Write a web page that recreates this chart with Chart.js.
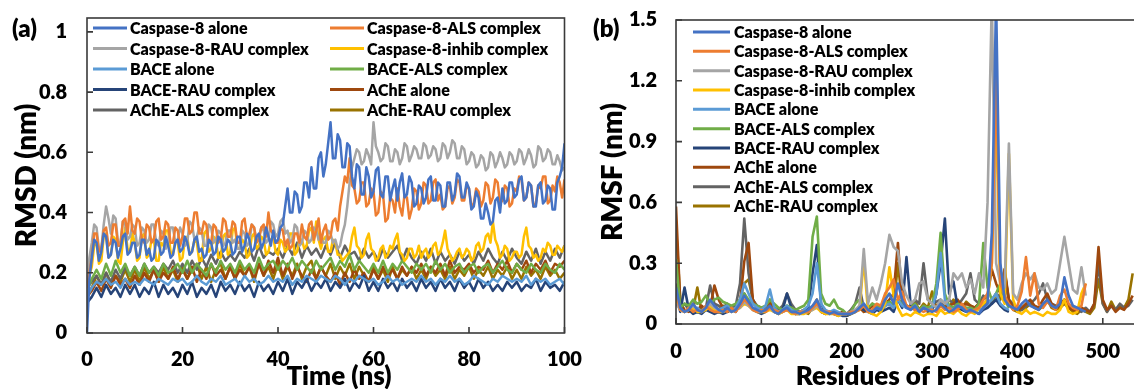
<!DOCTYPE html>
<html>
<head>
<meta charset="utf-8">
<script src="https://cdn.jsdelivr.net/npm/chart.js@4.4.1/dist/chart.umd.min.js"></script>
<style>
	html, body { margin: 0; padding: 0; background: #fff; overflow: hidden; }
	body { width: 1134px; height: 389px; position: relative; }
	#boxA { position: absolute; left: 0; top: 0; width: 600px; height: 389px; }
	#boxB { position: absolute; left: 570px; top: 0; width: 585px; height: 389px; }
</style>
</head>
<body>
<div id="boxA"><canvas id="rmsdChart"></canvas></div>
<div id="boxB"><canvas id="rmsfChart"></canvas></div>
<script>
// ---- labels / colours
var seriesNames = ['Caspase-8 alone', 'Caspase-8-ALS complex', 'Caspase-8-RAU complex', 'Caspase-8-inhib complex',
	'BACE alone', 'BACE-ALS complex', 'BACE-RAU complex', 'AChE alone', 'AChE-ALS complex', 'AChE-RAU complex'];
var seriesColors = ['#4472C4', '#ED7D31', '#A5A5A5', '#FFC000', '#5B9BD5', '#70AD47', '#264478', '#9E480E', '#636363', '#997300'];

var rmsdTicks = [0, 0.2, 0.4, 0.6, 0.8, 1];
var timeTicks = [0, 20, 40, 60, 80, 100];
var rmsfTicks = [0, 0.3, 0.6, 0.9, 1.2, 1.5];
var residueTicks = [0, 100, 200, 300, 400, 500];

var textWeight = 800;

// ---- (a) RMSD. caspase runs read every 0.5 ns, the others every 1 ns
var timeHalf = [];
for (let t = 0; t <= 200; t++) timeHalf.push(t / 2);
var timeNs = [];
for (let t = 0; t <= 100; t++) timeNs.push(t);

var rmsdCasp = [0.00,0.18,0.25,0.31,0.30,0.24,0.27,0.33,0.32,0.25,0.26,0.31,0.30,0.25,0.28,0.32,0.33,0.26,0.27,0.30,
	0.30,0.25,0.26,0.31,0.31,0.26,0.28,0.24,0.25,0.31,0.30,0.26,0.27,0.32,0.29,0.25,0.26,0.30,0.31,0.27,
	0.28,0.32,0.30,0.26,0.27,0.31,0.32,0.27,0.28,0.25,0.26,0.31,0.30,0.26,0.27,0.32,0.31,0.27,0.28,0.31,
	0.30,0.26,0.27,0.32,0.32,0.27,0.29,0.33,0.31,0.27,0.28,0.32,0.33,0.28,0.30,0.35,0.32,0.29,0.34,0.30,
	0.31,0.35,0.36,0.42,0.48,0.40,0.40,0.47,0.46,0.40,0.42,0.50,0.50,0.45,0.55,0.48,0.48,0.58,0.60,0.52,
	0.56,0.63,0.70,0.58,0.58,0.66,0.64,0.55,0.55,0.63,0.62,0.52,0.48,0.56,0.55,0.46,0.46,0.55,0.52,0.45,
	0.47,0.54,0.55,0.46,0.45,0.52,0.52,0.44,0.48,0.51,0.44,0.50,0.53,0.45,0.46,0.52,0.50,0.42,0.43,0.49,
	0.48,0.43,0.45,0.51,0.52,0.44,0.44,0.50,0.49,0.42,0.42,0.50,0.50,0.44,0.46,0.53,0.52,0.45,0.45,0.50,
	0.48,0.41,0.42,0.47,0.45,0.38,0.38,0.43,0.40,0.36,0.37,0.44,0.45,0.40,0.48,0.43,0.44,0.50,0.50,0.45,
	0.46,0.51,0.52,0.44,0.45,0.50,0.49,0.42,0.42,0.49,0.50,0.43,0.44,0.49,0.48,0.41,0.41,0.50,0.52,0.55,
	0.63];
var rmsdCaspALS = [0.15,0.20,0.25,0.33,0.33,0.27,0.28,0.34,0.35,0.29,0.30,0.36,0.36,0.29,0.29,0.37,0.38,0.33,0.42,0.34,
	0.33,0.38,0.37,0.31,0.30,0.36,0.35,0.30,0.31,0.37,0.38,0.31,0.32,0.37,0.36,0.30,0.30,0.35,0.34,0.29,
	0.32,0.38,0.38,0.33,0.34,0.40,0.40,0.33,0.33,0.37,0.36,0.30,0.30,0.36,0.35,0.30,0.31,0.38,0.37,0.32,
	0.32,0.37,0.36,0.30,0.30,0.37,0.38,0.32,0.33,0.36,0.35,0.30,0.31,0.35,0.36,0.32,0.40,0.34,0.33,0.30,
	0.30,0.35,0.34,0.29,0.31,0.28,0.29,0.33,0.33,0.30,0.36,0.32,0.31,0.36,0.37,0.31,0.34,0.38,0.30,0.34,
	0.36,0.31,0.32,0.37,0.38,0.34,0.42,0.47,0.52,0.50,0.58,0.49,0.48,0.43,0.44,0.50,0.50,0.42,0.43,0.48,
	0.47,0.39,0.40,0.47,0.46,0.37,0.38,0.45,0.44,0.40,0.48,0.42,0.39,0.46,0.45,0.38,0.41,0.48,0.47,0.41,
	0.43,0.50,0.49,0.43,0.44,0.50,0.51,0.44,0.46,0.41,0.42,0.48,0.49,0.43,0.45,0.51,0.50,0.44,0.44,0.49,
	0.48,0.42,0.43,0.48,0.47,0.42,0.44,0.50,0.49,0.43,0.45,0.51,0.50,0.43,0.44,0.49,0.48,0.42,0.43,0.48,
	0.47,0.52,0.51,0.44,0.45,0.50,0.49,0.42,0.43,0.49,0.48,0.52,0.52,0.43,0.44,0.49,0.47,0.52,0.50,0.45,
	0.51];
var rmsdCaspRAU = [0.10,0.25,0.30,0.36,0.35,0.28,0.28,0.36,0.42,0.38,0.33,0.39,0.38,0.30,0.30,0.37,0.36,0.31,0.32,0.36,
	0.35,0.29,0.30,0.35,0.34,0.30,0.31,0.36,0.36,0.30,0.29,0.34,0.33,0.28,0.30,0.35,0.35,0.30,0.31,0.35,
	0.33,0.29,0.30,0.37,0.36,0.31,0.32,0.35,0.34,0.29,0.29,0.36,0.35,0.30,0.31,0.34,0.33,0.29,0.30,0.34,
	0.34,0.30,0.31,0.28,0.28,0.34,0.33,0.29,0.30,0.36,0.35,0.31,0.32,0.35,0.34,0.30,0.31,0.37,0.36,0.32,
	0.33,0.37,0.38,0.33,0.34,0.30,0.31,0.36,0.35,0.29,0.30,0.34,0.33,0.30,0.31,0.35,0.34,0.31,0.32,0.30,
	0.30,0.34,0.33,0.30,0.31,0.28,0.29,0.33,0.36,0.42,0.50,0.55,0.58,0.61,0.60,0.56,0.57,0.61,0.59,0.56,
	0.70,0.62,0.60,0.57,0.58,0.63,0.62,0.57,0.57,0.61,0.60,0.56,0.58,0.63,0.62,0.57,0.59,0.62,0.61,0.58,
	0.58,0.63,0.62,0.58,0.59,0.62,0.61,0.57,0.58,0.63,0.62,0.58,0.60,0.64,0.63,0.58,0.58,0.62,0.61,0.56,
	0.57,0.60,0.59,0.55,0.56,0.59,0.58,0.54,0.55,0.60,0.59,0.55,0.57,0.60,0.58,0.55,0.56,0.60,0.59,0.56,
	0.57,0.61,0.60,0.56,0.58,0.61,0.59,0.55,0.56,0.62,0.61,0.57,0.58,0.61,0.60,0.56,0.56,0.59,0.57,0.54,
	0.55];
var rmsdCaspInhib = [0.15,0.19,0.22,0.29,0.30,0.23,0.24,0.32,0.33,0.25,0.26,0.32,0.31,0.24,0.23,0.30,0.35,0.28,0.27,0.33,
	0.30,0.24,0.25,0.32,0.33,0.25,0.26,0.31,0.31,0.24,0.24,0.30,0.29,0.34,0.34,0.27,0.26,0.31,0.30,0.24,
	0.25,0.31,0.32,0.26,0.27,0.31,0.30,0.24,0.24,0.33,0.34,0.27,0.28,0.32,0.31,0.25,0.25,0.32,0.33,0.26,
	0.27,0.34,0.35,0.28,0.28,0.31,0.30,0.25,0.26,0.32,0.33,0.28,0.29,0.32,0.31,0.26,0.27,0.31,0.32,0.27,
	0.26,0.31,0.30,0.27,0.28,0.33,0.33,0.26,0.27,0.31,0.31,0.28,0.29,0.34,0.35,0.30,0.37,0.31,0.28,0.31,
	0.32,0.27,0.27,0.31,0.30,0.26,0.26,0.24,0.25,0.26,0.27,0.32,0.35,0.29,0.28,0.25,0.26,0.31,0.33,0.28,
	0.27,0.24,0.25,0.28,0.29,0.25,0.26,0.29,0.28,0.31,0.33,0.27,0.26,0.24,0.25,0.28,0.28,0.25,0.26,0.29,
	0.25,0.27,0.28,0.25,0.26,0.29,0.30,0.26,0.27,0.30,0.34,0.28,0.26,0.24,0.25,0.27,0.28,0.25,0.26,0.28,
	0.27,0.24,0.25,0.29,0.30,0.27,0.28,0.32,0.33,0.30,0.37,0.31,0.29,0.25,0.26,0.29,0.28,0.24,0.25,0.27,
	0.27,0.25,0.26,0.32,0.35,0.29,0.28,0.25,0.26,0.24,0.25,0.28,0.27,0.30,0.29,0.26,0.26,0.29,0.28,0.27,
	0.29];
var rmsdBace = [0.12,0.15,0.17,0.16,0.18,0.16,0.17,0.15,0.18,0.16,
	0.17,0.16,0.18,0.17,0.16,0.18,0.17,0.16,0.18,0.17,
	0.18,0.16,0.17,0.19,0.17,0.16,0.18,0.17,0.19,0.16,
	0.17,0.18,0.16,0.19,0.17,0.18,0.16,0.17,0.19,0.17,
	0.18,0.17,0.19,0.16,0.18,0.17,0.19,0.18,0.17,0.19,
	0.18,0.17,0.19,0.18,0.16,0.18,0.17,0.19,0.18,0.17,
	0.18,0.16,0.17,0.19,0.17,0.18,0.16,0.17,0.18,0.17,
	0.19,0.17,0.18,0.16,0.18,0.17,0.19,0.17,0.18,0.16,
	0.17,0.19,0.18,0.17,0.16,0.18,0.17,0.19,0.18,0.17,
	0.18,0.17,0.19,0.16,0.18,0.17,0.18,0.16,0.17,0.18,0.16];
var rmsdBaceALS = [0.14,0.18,0.21,0.18,0.23,0.19,0.24,0.20,0.23,0.19,
	0.22,0.19,0.23,0.20,0.22,0.19,0.23,0.20,0.21,0.23,
	0.20,0.24,0.20,0.23,0.21,0.19,0.23,0.20,0.24,0.21,
	0.23,0.20,0.24,0.21,0.23,0.20,0.25,0.21,0.23,0.24,
	0.21,0.24,0.22,0.25,0.21,0.24,0.22,0.20,0.24,0.21,
	0.23,0.25,0.21,0.24,0.22,0.26,0.21,0.24,0.22,0.20,
	0.23,0.20,0.24,0.20,0.23,0.21,0.24,0.22,0.20,0.23,
	0.21,0.23,0.20,0.24,0.21,0.23,0.20,0.22,0.23,0.20,
	0.22,0.23,0.20,0.22,0.23,0.20,0.22,0.24,0.21,0.20,
	0.23,0.21,0.20,0.23,0.21,0.20,0.23,0.21,0.20,0.23,0.21];
var rmsdBaceRAU = [0.10,0.12,0.15,0.12,0.16,0.13,0.15,0.12,0.16,0.13,
	0.16,0.12,0.15,0.13,0.17,0.12,0.16,0.13,0.15,0.12,
	0.16,0.13,0.17,0.12,0.15,0.13,0.16,0.12,0.17,0.14,
	0.16,0.13,0.17,0.14,0.16,0.12,0.17,0.14,0.16,0.13,
	0.17,0.14,0.18,0.13,0.17,0.15,0.18,0.14,0.17,0.15,
	0.18,0.14,0.17,0.15,0.18,0.14,0.17,0.15,0.19,0.14,
	0.17,0.14,0.18,0.15,0.17,0.14,0.18,0.15,0.17,0.14,
	0.18,0.15,0.17,0.14,0.18,0.15,0.17,0.14,0.18,0.15,
	0.17,0.14,0.18,0.15,0.17,0.14,0.16,0.14,0.17,0.15,
	0.17,0.14,0.16,0.15,0.18,0.14,0.17,0.15,0.16,0.14,0.17];
var rmsdAche = [0.12,0.14,0.17,0.14,0.18,0.15,0.19,0.16,0.18,0.15,
	0.19,0.16,0.20,0.17,0.21,0.17,0.20,0.18,0.22,0.18,
	0.21,0.18,0.22,0.17,0.21,0.18,0.23,0.19,0.21,0.18,
	0.22,0.18,0.21,0.19,0.22,0.18,0.23,0.19,0.24,0.20,
	0.25,0.19,0.23,0.18,0.22,0.19,0.17,0.21,0.18,0.22,
	0.19,0.17,0.20,0.16,0.20,0.17,0.21,0.18,0.20,0.17,
	0.21,0.18,0.22,0.19,0.21,0.18,0.22,0.19,0.22,0.20,
	0.23,0.19,0.22,0.20,0.23,0.19,0.24,0.20,0.22,0.21,
	0.23,0.20,0.22,0.21,0.24,0.20,0.23,0.21,0.24,0.20,
	0.23,0.21,0.24,0.20,0.23,0.21,0.24,0.20,0.23,0.22,0.24];
var rmsdAcheALS = [0.15,0.17,0.19,0.16,0.20,0.17,0.21,0.18,0.22,0.19,
	0.22,0.19,0.23,0.20,0.22,0.20,0.23,0.21,0.24,0.20,
	0.23,0.20,0.24,0.21,0.25,0.22,0.26,0.23,0.27,0.24,
	0.26,0.24,0.27,0.25,0.28,0.24,0.29,0.25,0.27,0.26,
	0.28,0.25,0.29,0.26,0.30,0.25,0.29,0.26,0.28,0.25,
	0.29,0.26,0.30,0.25,0.29,0.26,0.27,0.24,0.28,0.25,
	0.27,0.24,0.28,0.25,0.27,0.29,0.24,0.28,0.25,0.23,
	0.27,0.24,0.28,0.23,0.27,0.24,0.26,0.23,0.27,0.24,
	0.26,0.23,0.27,0.24,0.28,0.25,0.23,0.27,0.24,0.28,
	0.25,0.23,0.27,0.24,0.28,0.23,0.27,0.24,0.28,0.25,0.29];
var rmsdAcheRAU = [0.13,0.15,0.19,0.16,0.20,0.16,0.19,0.17,0.21,0.17,
	0.21,0.17,0.22,0.18,0.21,0.17,0.22,0.18,0.21,0.17,
	0.22,0.18,0.21,0.23,0.18,0.22,0.17,0.21,0.23,0.18,
	0.22,0.18,0.23,0.19,0.22,0.17,0.23,0.19,0.22,0.18,
	0.23,0.18,0.22,0.19,0.23,0.18,0.22,0.24,0.18,0.22,
	0.19,0.23,0.18,0.22,0.19,0.23,0.18,0.22,0.19,0.17,
	0.22,0.18,0.21,0.17,0.22,0.18,0.21,0.19,0.22,0.18,
	0.21,0.18,0.22,0.19,0.21,0.18,0.22,0.18,0.21,0.19,
	0.22,0.18,0.21,0.19,0.22,0.18,0.21,0.19,0.22,0.18,
	0.21,0.18,0.22,0.19,0.21,0.18,0.22,0.19,0.21,0.18,0.20];

// ---- (b) RMSF, every 5th residue
var residues = [];
for (let r = 0; r <= 535; r += 5) residues.push(r);

var rmsfCasp = [0.18,0.08,0.06,0.07,0.10,0.07,0.06,0.08,0.12,0.09,
	0.07,0.06,0.08,0.06,0.07,0.10,0.14,0.11,0.08,0.07,
	0.06,0.07,0.09,0.06,0.05,0.07,0.08,0.06,0.06,0.05,
	0.06,0.07,0.09,0.12,0.07,0.06,0.05,0.06,0.05,0.05,
	0.05,0.05,0.06,0.08,0.10,0.07,0.06,0.08,0.07,0.12,
	0.15,0.10,0.20,0.12,0.08,0.07,0.09,0.06,0.08,0.07,
	0.06,0.07,0.10,0.08,0.06,0.07,0.09,0.08,0.06,0.07,
	0.06,0.05,0.08,0.10,0.45,1.60,0.30,0.12,0.09,0.08,
	0.07,0.10,0.12,0.09,0.08,0.07,0.10,0.12,0.09,0.08,
	0.10,0.23,0.14,0.09,0.08,0.07,0.06];
var rmsfCaspALS = [0.15,0.07,0.06,0.08,0.06,0.07,0.06,0.09,0.07,0.06,
	0.06,0.07,0.06,0.08,0.06,0.09,0.12,0.10,0.07,0.06,
	0.07,0.06,0.08,0.07,0.06,0.06,0.07,0.06,0.05,0.06,
	0.06,0.06,0.08,0.10,0.07,0.06,0.06,0.05,0.05,0.05,
	0.05,0.06,0.06,0.07,0.09,0.06,0.07,0.10,0.09,0.15,
	0.18,0.22,0.12,0.16,0.09,0.08,0.07,0.07,0.06,0.07,
	0.07,0.06,0.09,0.07,0.08,0.06,0.07,0.10,0.07,0.06,
	0.07,0.08,0.12,0.15,0.30,1.24,0.20,0.14,0.10,0.07,
	0.09,0.16,0.33,0.14,0.25,0.10,0.08,0.11,0.09,0.07,
	0.14,0.17,0.10,0.08,0.07,0.09,0.20];
var rmsfCaspRAU = [0.10,0.07,0.06,0.07,0.09,0.07,0.06,0.08,0.10,0.08,
	0.07,0.06,0.07,0.06,0.07,0.08,0.11,0.09,0.07,0.06,
	0.06,0.07,0.08,0.06,0.06,0.06,0.07,0.06,0.05,0.06,
	0.06,0.06,0.07,0.09,0.07,0.06,0.06,0.05,0.05,0.05,
	0.05,0.06,0.07,0.09,0.37,0.10,0.18,0.12,0.20,0.30,
	0.44,0.38,0.36,0.20,0.14,0.10,0.12,0.20,0.21,0.12,
	0.10,0.08,0.12,0.10,0.12,0.25,0.22,0.25,0.18,0.22,
	0.15,0.25,0.18,0.60,1.60,0.30,0.20,0.18,0.89,0.15,
	0.12,0.20,0.25,0.22,0.25,0.18,0.17,0.20,0.15,0.17,
	0.30,0.43,0.30,0.17,0.15,0.28,0.14];
var rmsfCaspInhib = [0.12,0.07,0.06,0.07,0.08,0.06,0.06,0.07,0.09,0.07,
	0.06,0.06,0.07,0.06,0.07,0.08,0.10,0.09,0.07,0.06,
	0.06,0.06,0.07,0.06,0.05,0.06,0.07,0.05,0.05,0.05,
	0.05,0.06,0.07,0.08,0.06,0.05,0.05,0.05,0.04,0.05,
	0.05,0.05,0.06,0.07,0.32,0.06,0.05,0.04,0.06,0.10,
	0.28,0.14,0.08,0.04,0.05,0.04,0.06,0.05,0.04,0.05,
	0.05,0.04,0.07,0.05,0.06,0.05,0.07,0.05,0.04,0.06,
	0.05,0.08,0.10,0.12,0.30,1.03,0.15,0.10,0.84,0.12,
	0.06,0.05,0.07,0.05,0.06,0.05,0.04,0.06,0.05,0.05,
	0.07,0.12,0.06,0.05,0.06,0.15,0.20];
var rmsfBace = [0.15,0.07,0.06,0.08,0.07,0.08,0.06,0.09,0.08,0.07,
	0.07,0.08,0.09,0.07,0.08,0.12,0.20,0.15,0.10,0.08,
	0.07,0.09,0.17,0.08,0.06,0.07,0.09,0.07,0.06,0.06,
	0.07,0.09,0.15,0.30,0.10,0.07,0.06,0.07,0.06,0.05,
	0.05,0.06,0.07,0.08,0.10,0.07,0.06,0.08,0.07,0.09,
	0.10,0.08,0.12,0.09,0.08,0.07,0.09,0.06,0.08,0.07,
	0.08,0.15,0.35,0.12,0.08,0.07,0.09,0.08,0.07,0.07,
	0.06,0.07,0.08,0.10,0.12,0.15,0.10,0.08,0.07];
var rmsfBaceALS = [0.32,0.08,0.10,0.09,0.12,0.10,0.11,0.14,0.10,0.12,
	0.13,0.11,0.10,0.09,0.10,0.12,0.15,0.12,0.10,0.09,
	0.08,0.09,0.12,0.10,0.08,0.07,0.09,0.08,0.07,0.08,
	0.09,0.12,0.43,0.53,0.15,0.10,0.09,0.12,0.08,0.07,
	0.05,0.06,0.10,0.12,0.09,0.08,0.10,0.09,0.08,0.10,
	0.11,0.09,0.12,0.10,0.09,0.08,0.10,0.07,0.09,0.08,
	0.09,0.20,0.45,0.15,0.09,0.08,0.10,0.09,0.08,0.08,
	0.07,0.10,0.40,0.18,0.12,0.15,0.20,0.12,0.08];
var rmsfBaceRAU = [0.16,0.06,0.18,0.07,0.05,0.06,0.05,0.07,0.06,0.05,
	0.06,0.05,0.06,0.07,0.06,0.10,0.15,0.10,0.07,0.06,
	0.05,0.06,0.08,0.06,0.05,0.07,0.15,0.08,0.05,0.05,
	0.06,0.08,0.25,0.39,0.10,0.06,0.05,0.06,0.05,0.04,
	0.04,0.05,0.06,0.08,0.07,0.06,0.05,0.07,0.06,0.07,
	0.08,0.06,0.12,0.08,0.33,0.09,0.07,0.06,0.08,0.06,
	0.07,0.15,0.30,0.52,0.15,0.21,0.08,0.07,0.06,0.07,
	0.06,0.05,0.07,0.08,0.10,0.12,0.09,0.07,0.06];
var rmsfAche = [0.58,0.10,0.07,0.06,0.08,0.07,0.09,0.07,0.08,0.19,
	0.12,0.08,0.06,0.07,0.08,0.10,0.31,0.40,0.12,0.08,
	0.06,0.08,0.10,0.07,0.06,0.07,0.08,0.06,0.05,0.06,
	0.07,0.06,0.08,0.09,0.06,0.05,0.06,0.05,0.05,0.06,
	0.05,0.06,0.07,0.08,0.06,0.07,0.09,0.08,0.07,0.10,
	0.12,0.15,0.40,0.12,0.09,0.08,0.10,0.07,0.09,0.08,
	0.08,0.09,0.10,0.08,0.09,0.10,0.12,0.09,0.10,0.09,
	0.08,0.10,0.12,0.14,0.27,0.20,0.15,0.27,0.12,0.08,
	0.07,0.08,0.10,0.12,0.09,0.08,0.12,0.15,0.10,0.08,
	0.09,0.12,0.08,0.07,0.06,0.08,0.07,0.06,0.10,0.38,
	0.12,0.07,0.09,0.06,0.08,0.07,0.10,0.14];
var rmsfAcheALS = [0.20,0.08,0.10,0.07,0.08,0.06,0.07,0.08,0.19,0.10,
	0.09,0.08,0.10,0.08,0.09,0.20,0.52,0.25,0.12,0.09,
	0.08,0.07,0.09,0.08,0.07,0.09,0.15,0.10,0.07,0.06,
	0.07,0.06,0.08,0.10,0.07,0.06,0.06,0.05,0.05,0.05,
	0.05,0.07,0.10,0.18,0.08,0.07,0.09,0.08,0.07,0.10,
	0.11,0.09,0.12,0.10,0.09,0.08,0.12,0.10,0.30,0.12,
	0.10,0.11,0.12,0.10,0.12,0.10,0.09,0.12,0.15,0.25,
	0.12,0.10,0.14,0.12,0.10,0.12,0.15,0.25,0.12,0.10,
	0.08,0.07,0.09,0.10,0.12,0.15,0.20,0.12,0.10,0.09,
	0.10,0.12,0.09,0.08,0.07,0.06,0.08,0.06,0.10,0.30,
	0.10,0.06,0.09,0.07,0.10,0.08,0.09,0.12];
var rmsfAcheRAU = [0.48,0.12,0.06,0.08,0.07,0.18,0.06,0.08,0.10,0.09,
	0.07,0.09,0.08,0.06,0.08,0.12,0.20,0.22,0.12,0.08,
	0.07,0.08,0.12,0.07,0.05,0.06,0.09,0.06,0.05,0.06,
	0.06,0.05,0.08,0.12,0.06,0.05,0.06,0.05,0.04,0.05,
	0.04,0.05,0.06,0.09,0.06,0.07,0.10,0.08,0.06,0.09,
	0.10,0.08,0.30,0.10,0.08,0.09,0.11,0.07,0.10,0.08,
	0.16,0.08,0.10,0.09,0.08,0.12,0.10,0.08,0.11,0.09,
	0.08,0.10,0.09,0.12,0.10,0.15,0.12,0.27,0.10,0.07,
	0.06,0.07,0.08,0.10,0.08,0.07,0.09,0.12,0.08,0.07,
	0.08,0.10,0.08,0.06,0.05,0.07,0.06,0.05,0.08,0.22,
	0.10,0.06,0.11,0.07,0.09,0.08,0.12,0.25];

var rmsdSeries = [rmsdCasp, rmsdCaspALS, rmsdCaspRAU, rmsdCaspInhib, rmsdBace, rmsdBaceALS, rmsdBaceRAU, rmsdAche, rmsdAcheALS, rmsdAcheRAU];
var rmsdTimes = [timeHalf, timeHalf, timeHalf, timeHalf, timeNs, timeNs, timeNs, timeNs, timeNs, timeNs];
var rmsfSeries = [rmsfCasp, rmsfCaspALS, rmsfCaspRAU, rmsfCaspInhib, rmsfBace, rmsfBaceALS, rmsfBaceRAU, rmsfAche, rmsfAcheALS, rmsfAcheRAU];

Chart.defaults.font.family = 'Lato, "Open Sans", sans-serif';
Chart.defaults.font.weight = textWeight;
Chart.defaults.color = '#000';

// frame, inward tick marks, legend block and loose texts
var panelDecor = {
	id: 'panelDecor',
	afterDraw: function (chart, args, opts) {
		var ctx = chart.ctx, area = chart.chartArea;
		var xs = chart.scales.x, ys = chart.scales.y;
		ctx.save();
		ctx.strokeStyle = '#3a3a3a';
		ctx.lineWidth = 1.6;
		ctx.strokeRect(area.left, area.top, area.right - area.left, area.bottom - area.top);
		ctx.beginPath();
		xs.ticks.forEach(function (t) {
			var px = xs.getPixelForValue(t.value);
			ctx.moveTo(px, area.bottom);
			ctx.lineTo(px, area.bottom - 6);
		});
		ys.ticks.forEach(function (t) {
			var py = ys.getPixelForValue(t.value);
			ctx.moveTo(area.left, py);
			ctx.lineTo(area.left + 6, py);
		});
		ctx.stroke();

		var lg = opts.legend;
		ctx.font = textWeight + ' ' + lg.size + 'px Lato';
		ctx.textBaseline = 'middle';
		ctx.textAlign = 'left';
		chart.data.datasets.forEach(function (ds, i) {
			var col = i % lg.cols, row = Math.floor(i / lg.cols);
			var x = lg.colX[col], y = lg.y0 + row * lg.rowH;
			ctx.strokeStyle = ds.borderColor;
			ctx.lineWidth = 3;
			ctx.beginPath();
			ctx.moveTo(x, y);
			ctx.lineTo(x + lg.lineLen, y);
			ctx.stroke();
			ctx.fillStyle = '#000';
			ctx.fillText(ds.label, x + lg.lineLen + lg.gap, y + 1);
		});

		opts.texts.forEach(function (t) {
			ctx.font = textWeight + ' ' + t.size + 'px Lato';
			ctx.textAlign = t.align;
			ctx.fillStyle = '#000';
			ctx.fillText(t.text, t.x, t.y);
		});
		ctx.restore();
	}
};

function buildSets(xLists, series, width) {
	return series.map(function (vals, i) {
		var xs = xLists[i];
		return {
			label: seriesNames[i],
			data: vals.map(function (v, k) { return { x: xs[k], y: v }; }),
			borderColor: seriesColors[i],
			backgroundColor: seriesColors[i],
			borderWidth: width,
			pointRadius: 0,
			borderJoinStyle: 'round',
			tension: 0
		};
	});
}

function plainLabel(value) { return String(value); }

// gap between axis and labels is made with an invisible tick mark, so the
// scale does not push the plot area down by the label padding
function axisY(min, max, tickList, title, titlePad, axisWidth, labelGap) {
	return {
		type: 'linear', min: min, max: max,
		grid: { display: true, drawOnChartArea: false, drawTicks: true, tickLength: labelGap, tickColor: 'rgba(0,0,0,0)' },
		border: { display: false },
		afterBuildTicks: function (scale) { scale.ticks = tickList.map(function (v) { return { value: v }; }); },
		afterFit: function (scale) { scale.width = axisWidth; },
		ticks: { padding: 0, callback: plainLabel, font: { size: 20, weight: textWeight }, color: '#000' },
		title: { display: true, text: title, font: { size: 28, weight: textWeight, lineHeight: 1 }, color: '#000', padding: { top: titlePad, bottom: 0 } }
	};
}

function axisX(min, max, tickList, axisHeight, labelGap) {
	return {
		type: 'linear', min: min, max: max,
		grid: { display: true, drawOnChartArea: false, drawTicks: true, tickLength: labelGap, tickColor: 'rgba(0,0,0,0)' },
		border: { display: false },
		afterBuildTicks: function (scale) { scale.ticks = tickList.map(function (v) { return { value: v }; }); },
		afterFit: function (scale) { scale.height = axisHeight; },
		ticks: { padding: 0, autoSkip: false, maxRotation: 0, callback: plainLabel, font: { size: 20, weight: textWeight }, color: '#000' }
	};
}

new Chart(document.getElementById('rmsdChart'), {
	type: 'line',
	data: { datasets: buildSets(rmsdTimes, rmsdSeries, 2.5) },
	options: {
		responsive: true, maintainAspectRatio: false, animation: false,
		layout: { padding: { left: 0, right: 35.5, top: 18, bottom: 0 } },
		scales: {
			x: axisX(0, 100, timeTicks, 56, 15),
			y: axisY(0, 1.046, rmsdTicks, 'RMSD (nm)', 13, 87, 20)
		},
		plugins: {
			legend: { display: false },
			tooltip: { enabled: false },
			panelDecor: {
				legend: { cols: 2, colX: [93, 330], y0: 28, rowH: 20.5, lineLen: 34, gap: 3, size: 16 },
				texts: [
					{ text: '(a)', x: 12, y: 29, size: 24, align: 'left' },
					{ text: 'Time (ns)', x: 339, y: 377, size: 26, align: 'center' }
				]
			}
		}
	},
	plugins: [panelDecor]
});

var residueLists = rmsfSeries.map(function () { return residues; });

new Chart(document.getElementById('rmsfChart'), {
	type: 'line',
	data: { datasets: buildSets(residueLists, rmsfSeries, 2.6) },
	options: {
		responsive: true, maintainAspectRatio: false, animation: false,
		layout: { padding: { left: 0, right: 1, top: 20, bottom: 0 } },
		scales: {
			x: axisX(0, 560, residueTicks, 65, 16),
			y: axisY(0, 1.5, rmsfTicks, 'RMSF (nm)', 29, 106, 19)
		},
		plugins: {
			legend: { display: false },
			tooltip: { enabled: false },
			panelDecor: {
				legend: { cols: 1, colX: [123], y0: 32, rowH: 19.33, lineLen: 37, gap: 4, size: 16 },
				texts: [
					{ text: '(b)', x: 23, y: 29, size: 24, align: 'left' },
					{ text: 'Residues of Proteins', x: 345, y: 377, size: 26, align: 'center' }
				]
			}
		}
	},
	plugins: [panelDecor]
});
</script>
</body>
</html>
